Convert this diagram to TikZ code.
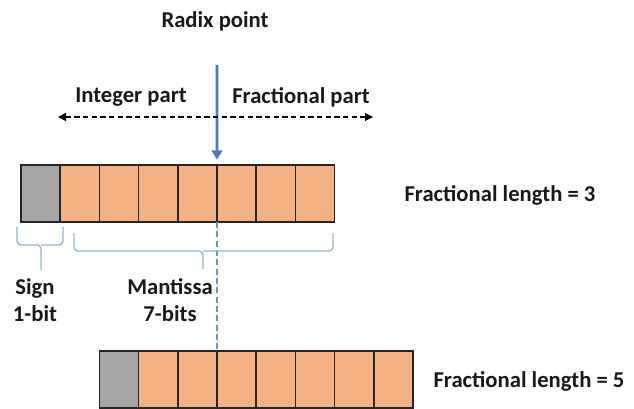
\documentclass[tikz,border=0pt]{standalone}
\usepackage{fontspec}
\setmainfont{Carlito}
\usetikzlibrary{arrows.meta}

\definecolor{mantfill}{HTML}{F4B183}
\definecolor{signfill}{HTML}{A6A6A6}
\definecolor{cellline}{HTML}{262626}
\definecolor{radixblue}{HTML}{4A7EBB}
\definecolor{bracecol}{HTML}{8DB3E2}
\definecolor{dashblue}{HTML}{5B9BD5}

\tikzset{
  cell/.style={draw=cellline, line width=1.1pt, minimum width=29.4pt,
               minimum height=42.75pt, inner sep=0pt, outer sep=0pt},
  lbl/.style={font=\fontsize{17}{19}\selectfont\bfseries, text=black!90, inner sep=1pt},
  bracepath/.style={draw=bracecol, line width=1pt, rounded corners=3pt},
}

\begin{document}
\begin{tikzpicture}[x=0.75pt, y=-0.75pt]
\useasboundingbox (0,0) rectangle (634,409);

% ── Upper register (fractional length 3) ──
\foreach \i in {1,...,8} {
    \ifnum\i=1 \def\cellfill{signfill}\else \def\cellfill{mantfill}\fi
    \node[cell, fill=\cellfill] (a\i) at ({21+39.2*(\i-0.5)}, 193.5) {};
}
\node[lbl] (fl3) at (500, 195) {Fractional length = 3};

% ── Lower register (fractional length 5) ──
\foreach \i in {1,...,8} {
    \ifnum\i=1 \def\cellfill{signfill}\else \def\cellfill{mantfill}\fi
    \node[cell, fill=\cellfill] (b\i) at ({99.4+39.2*(\i-0.5)}, 379.5) {};
}
\node[lbl] (fl5) at (529, 381) {Fractional length = 5};

% ── Radix point ──
\node[lbl] (radix) at (215, 21) {Radix point};
\coordinate (rtop) at (217, 65);
\draw[radixblue, line width=2pt, shorten >=4pt,
      -{Triangle[width=8pt,length=7pt]}] (rtop) -- (a5.north east);
\draw[dashblue, line width=0.9pt, dash pattern=on 4.5pt off 2.5pt]
      (a5.south east) -- (b3.north east);

% ── Integer / fractional direction ──
\node[lbl] (intp) at (131, 97) {Integer part};
\node[lbl] (fracp) at (301, 97) {Fractional part};
\coordinate (dleft) at (58, 117);
\coordinate (dright) at (373, 117);
\draw[black, line width=0.8pt, dash pattern=on 4pt off 2.5pt,
      {Triangle[width=6pt,length=6pt]}-{Triangle[width=6pt,length=6pt]}] (dleft) -- (dright);

% ── Sign and mantissa braces ──
\coordinate (sl) at (17, 227);
\coordinate (sr) at (63, 227);
\coordinate (ml) at (74, 233);
\coordinate (mr) at (333, 233);
\draw[bracepath] (sl) -- ++(0,18) -- ++(24,0) -- ++(0,25);
\draw[bracepath] (sr) -- ++(0,18) -- ++(-22,0);
\draw[bracepath] (ml) -- ++(0,18) -- ++(129,0) -- ++(0,18);
\draw[bracepath] (mr) -- ++(0,18) -- ++(-130,0);
\node[lbl, align=center] (sign) at (35, 300) {Sign\\[1pt]1-bit};
\node[lbl, align=center] (mant) at (170, 300) {Mantissa\\[1pt]7-bits};

\end{tikzpicture}
\end{document}
